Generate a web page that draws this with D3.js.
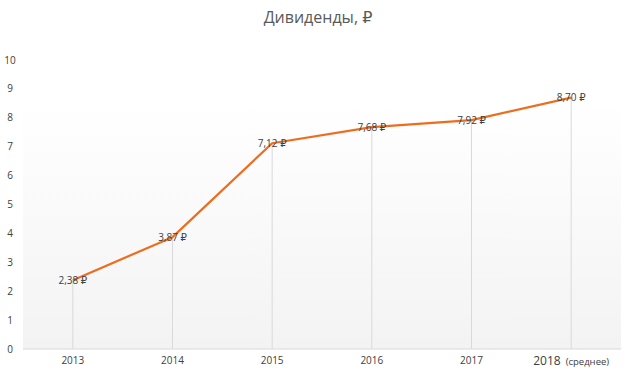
<!DOCTYPE html>
<html>
<head>
<meta charset="utf-8">
<script src="https://cdn.jsdelivr.net/npm/d3@7"></script>
<style>
  body { margin: 0; background: #fff; }
  svg text { font-family: "Open Sans", "DejaVu Sans", sans-serif; }
</style>
</head>
<body>
<div id="chart"></div>
<script>
// chart data
var years = ["2013", "2014", "2015", "2016", "2017", "2018"];
var dividends = [2.38, 3.87, 7.12, 7.68, 7.92, 8.70];
var valueLabels = ["2,38 ₽", "3,87 ₽", "7,12 ₽", "7,68 ₽", "7,92 ₽", "8,70 ₽"];
var yTicks = [0, 1, 2, 3, 4, 5, 6, 7, 8, 9, 10];

var width = 633, height = 376;
var margin = {top: 60, right: 12, bottom: 27, left: 23};

var svg = d3.select("#chart").append("svg")
    .attr("width", width)
    .attr("height", height);

// faint shading behind the plot
var defs = svg.append("defs");
var grad = defs.append("linearGradient")
    .attr("id", "bg").attr("x1", 0).attr("y1", 0).attr("x2", 0).attr("y2", 1);
grad.append("stop").attr("offset", "0%").attr("stop-color", "#ffffff");
grad.append("stop").attr("offset", "100%").attr("stop-color", "#f3f3f3");

var x = d3.scaleBand().domain(years).range([margin.left, width - margin.right]);
var y = d3.scaleLinear().domain([0, 10]).range([height - margin.bottom, margin.top]);

svg.append("rect")
    .attr("x", margin.left)
    .attr("y", y(8.6))
    .attr("width", width - margin.right - margin.left)
    .attr("height", y(0) - y(8.6))
    .style("fill", "url(#bg)");

// title
svg.append("text")
    .attr("x", 318).attr("y", 23)
    .attr("text-anchor", "middle")
    .style("font-size", "16px")
    .style("fill", "#595959")
    .text("Дивиденды, ₽");

// y axis labels (no line)
svg.append("g").selectAll("text").data(yTicks).enter()
    .append("text")
    .attr("x", 10)
    .attr("y", function(d) { return y(d); })
    .attr("dy", "0.35em")
    .attr("text-anchor", "middle")
    .style("font-size", "10px")
    .style("fill", "#404040")
    .text(function(d) { return d; });

var cx = function(d, i) { return x(years[i]) + x.bandwidth() / 2; };

// drop lines
svg.append("g").selectAll("line").data(dividends).enter()
    .append("line")
    .attr("x1", cx).attr("x2", cx)
    .attr("y1", function(d) { return y(d); })
    .attr("y2", y(0))
    .style("stroke", "#d9d9d9")
    .style("stroke-width", 1);

// x axis
svg.append("line")
    .attr("x1", margin.left).attr("x2", width - margin.right)
    .attr("y1", y(0)).attr("y2", y(0))
    .style("stroke", "#d9d9d9");

var xLabels = svg.append("g").selectAll("text").data(years).enter()
    .append("text")
    .attr("x", function(d) { return x(d) + x.bandwidth() / 2; })
    .attr("y", y(0) + 15)
    .attr("text-anchor", "middle")
    .style("font-size", "10px")
    .style("fill", "#404040");
xLabels.each(function(d, i) {
    var t = d3.select(this);
    if (i === years.length - 1) {
        // last label: "2018  (среднее)"
        t.append("tspan").style("font-size", "12px").text(d);
        t.append("tspan").style("font-size", "9.5px").attr("dx", 5).text("(среднее)");
        t.attr("y", y(0) + 16);
    } else {
        t.text(d);
    }
});

// line
var line = d3.line()
    .x(function(d, i) { return x(years[i]) + x.bandwidth() / 2; })
    .y(function(d) { return y(d); });

svg.append("path")
    .datum(dividends)
    .attr("d", line)
    .style("fill", "none")
    .style("stroke", "#ed6d1f")
    .style("stroke-width", 2.2)
    .style("stroke-linejoin", "round");

// value labels
svg.append("g").selectAll("text").data(dividends).enter()
    .append("text")
    .attr("x", cx)
    .attr("y", function(d) { return y(d); })
    .attr("dy", "0.35em")
    .attr("text-anchor", "middle")
    .style("font-size", "10px")
    .style("fill", "#404040")
    .text(function(d, i) { return valueLabels[i]; });
</script>
</body>
</html>
